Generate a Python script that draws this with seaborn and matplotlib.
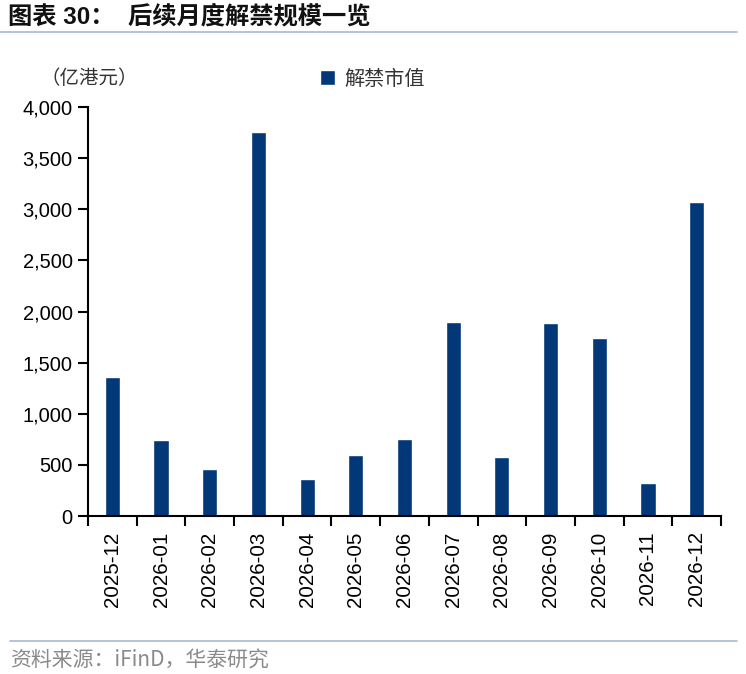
import matplotlib
matplotlib.use('Agg')
import matplotlib.pyplot as plt
import matplotlib.ticker as mticker
from matplotlib.lines import Line2D
import seaborn as sns
import pandas as pd

# 数据：后续月度解禁市值（亿港元）
months = ['2025-12', '2026-01', '2026-02', '2026-03', '2026-04', '2026-05', '2026-06',
          '2026-07', '2026-08', '2026-09', '2026-10', '2026-11', '2026-12']
unlock_value = [1356, 743, 460, 3752, 362, 600, 756, 1901, 580, 1884, 1744, 326, 3074]
series_name = '解禁市值'
y_ticks = [0, 500, 1000, 1500, 2000, 2500, 3000, 3500, 4000]

sns.set_theme(style='ticks')
plt.rcParams['font.family'] = ['Liberation Sans', 'Noto Sans CJK SC', 'DejaVu Sans']
cjk = ['Noto Sans CJK SC', 'DejaVu Sans']
bar_color = '#023877'

df = pd.DataFrame({'month': months, 'value': unlock_value})

fig = plt.figure(figsize=(7.46, 6.74), dpi=100)
ax = fig.add_axes([88 / 746, 1 - 516 / 674, (721 - 88) / 746, (516 - 107) / 674])

sns.barplot(data=df, x='month', y='value', color=bar_color, width=0.31,
            saturation=1, ax=ax, label=series_name)

ax.set_xlim(-0.5, len(months) - 0.5)
ax.set_ylim(0, 4000)
ax.set_yticks(y_ticks)
ax.yaxis.set_major_formatter(mticker.FuncFormatter(lambda v, p: f'{int(v):,}'))
ax.set_xlabel('')
ax.set_ylabel('')

# x轴刻度线画在类别之间
ax.set_xticks([i + 0.5 for i in range(-1, len(months))], minor=True)
ax.tick_params(axis='x', which='major', length=0, labelsize=14.8, labelrotation=90,
               pad=11, colors='black')
ax.tick_params(axis='x', which='minor', length=7, width=1.5, color='black', direction='out')
ax.tick_params(axis='y', length=7, width=1.5, labelsize=14.5, pad=4, colors='black')
for lab in ax.get_xticklabels():
    lab.set_verticalalignment('top')

sns.despine(ax=ax)
for s in ['left', 'bottom']:
    ax.spines[s].set_linewidth(1.5)
    ax.spines[s].set_color('black')

# 图例
ax.legend(loc='center left', bbox_to_anchor=(312 / 746, 1 - 79 / 674),
          bbox_transform=fig.transFigure, frameon=False, handlelength=0.75,
          handleheight=0.75, handletextpad=0.45, borderaxespad=0,
          prop={'family': cjk, 'size': 14.5}, labelcolor='#333333')

# 单位
fig.text(40 / 746, 1 - 78 / 674, '（亿港元）', family=cjk, fontsize=14,
         color='#333333', va='center', ha='left')

# 标题与分隔线
fig.text(8 / 746, 1 - 17 / 674, '图表 30：  后续月度解禁规模一览', fontsize=17.5,
         fontweight='bold', color='#111111', va='center', ha='left')
fig.add_artist(Line2D([0, 737 / 746], [1 - 32 / 674, 1 - 32 / 674],
                      transform=fig.transFigure, color='#a7b9d1', lw=1.2))
fig.add_artist(Line2D([10 / 746, 737 / 746], [1 - 641 / 674, 1 - 641 / 674],
                      transform=fig.transFigure, color='#a7b9d1', lw=1.2))

# 资料来源
fig.text(10 / 746, 1 - 660 / 674, '资料来源：iFinD，华泰研究', family=cjk, fontsize=15,
         color='#8a8a8a', va='center', ha='left')

fig.savefig('out.png', dpi=100)
